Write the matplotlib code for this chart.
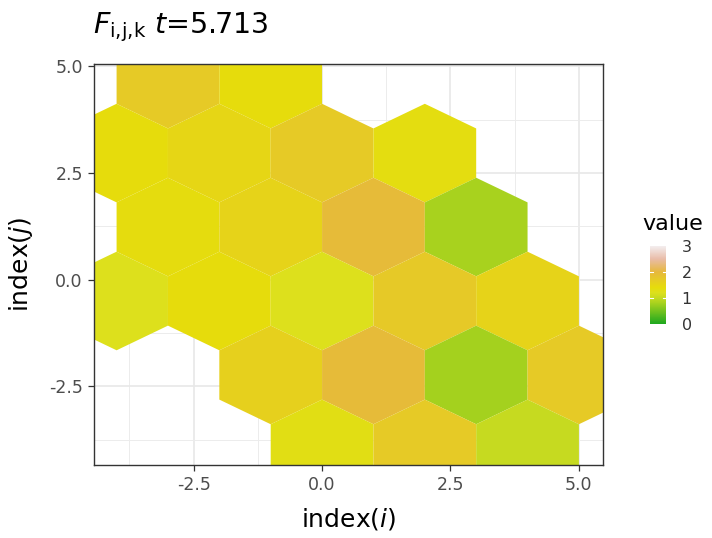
import numpy as np
import matplotlib
matplotlib.use("Agg")
import matplotlib.pyplot as plt
from matplotlib.patches import RegularPolygon
from matplotlib.collections import PatchCollection
from matplotlib.colors import LinearSegmentedColormap, Normalize

# hexagon centres (index i, index j) and cell values
hex_x = [-3, -1,
         -4, -2, 0, 2,
         -3, -1, 1, 3,
         -4, -2, 0, 2, 4,
         -1, 1, 3, 5,
         0, 2, 4]
hex_y = [4.696, 4.696,
         2.964, 2.964, 2.964, 2.964,
         1.232, 1.232, 1.232, 1.232,
         -0.5, -0.5, -0.5, -0.5, -0.5,
         -2.232, -2.232, -2.232, -2.232,
         -3.964, -3.964, -3.964]
values = [1.7, 1.4,
          1.4, 1.5, 1.7, 1.35,
          1.38, 1.55, 1.95, 0.8,
          1.2, 1.4, 1.2, 1.72, 1.55,
          1.6, 1.95, 0.78, 1.7,
          1.3, 1.7, 1.0]

x_ticks = [-2.5, 0.0, 2.5, 5.0]
y_ticks = [-2.5, 0.0, 2.5, 5.0]
cbar_ticks = [0, 1, 2, 3]

stops = [(0.0, "#1fa81f"), (0.8, "#a8d21e"), (1.0, "#c6da20"), (1.2, "#dde01c"),
         (1.4, "#e6dc0c"), (1.7, "#e6ca26"), (2.0, "#e6b83c"), (2.5, "#e9bca8"),
         (3.0, "#f3eeef")]
cmap = LinearSegmentedColormap.from_list("fval", [(v / 3.0, c) for v, c in stops])
norm = Normalize(0, 3)

plt.rcParams['font.family'] = ['DejaVu Sans']
plt.rcParams['mathtext.fontset'] = 'dejavusans'

fig = plt.figure(figsize=(7.12, 5.38), dpi=100)
ax = fig.add_axes([0.132, 0.135, 0.715, 0.746])

r = 2 / np.sqrt(3)
patches = [RegularPolygon((x, y), numVertices=6, radius=r, orientation=0)
           for x, y in zip(hex_x, hex_y)]
pc = PatchCollection(patches, cmap=cmap, norm=norm, edgecolor='none', zorder=2)
pc.set_array(np.array(values))
ax.add_collection(pc)

ax.set_xlim(-4.44, 5.47)
ax.set_ylim(-4.35, 5.05)
ax.set_xticks(x_ticks)
ax.set_yticks(y_ticks)
ax.set_xticklabels(["%.1f" % t for t in x_ticks])
ax.set_yticklabels(["%.1f" % t for t in y_ticks])
ax.set_xticks([-3.75, -1.25, 1.25, 3.75], minor=True)
ax.set_yticks([-3.75, -1.25, 1.25, 3.75], minor=True)
ax.grid(which='major', color='#e8e8e8', linewidth=1.2, zorder=0)
ax.grid(which='minor', color='#ececec', linewidth=0.7, zorder=0)
ax.set_axisbelow(True)
ax.tick_params(which='major', length=4, width=0.9, color='#333333',
               labelcolor='#4d4d4d', labelsize=12.5, pad=4)
ax.tick_params(which='minor', length=0)
for s in ax.spines.values():
    s.set_color('#333333')
    s.set_linewidth(1.0)

ax.set_xlabel(r"index$(\mathit{i})$", fontsize=18, labelpad=8)
ax.set_ylabel(r"index$(\mathit{j})$", fontsize=18, labelpad=10)

fig.text(0.131, 0.939, r"$F_{\mathrm{i{,}j{,}k}}$ $t$=5.713", fontsize=20.5,
         ha='left', va='baseline')

# colour bar
cax = fig.add_axes([0.913, 0.398, 0.023, 0.145])
cb = fig.colorbar(plt.cm.ScalarMappable(norm=norm, cmap=cmap), cax=cax,
                  ticks=cbar_ticks)
cb.outline.set_visible(False)
cax.tick_params(length=0, labelsize=11.5, labelcolor='#333333', pad=11)
for t in cbar_ticks[1:-1]:
    cax.plot([0, 0.2], [t, t], color='white', lw=0.8, transform=cax.get_yaxis_transform())
    cax.plot([0.8, 1], [t, t], color='white', lw=0.8, transform=cax.get_yaxis_transform())
fig.text(0.902, 0.573, "value", fontsize=16, ha='left', va='baseline')

fig.savefig("out.png", dpi=100)
